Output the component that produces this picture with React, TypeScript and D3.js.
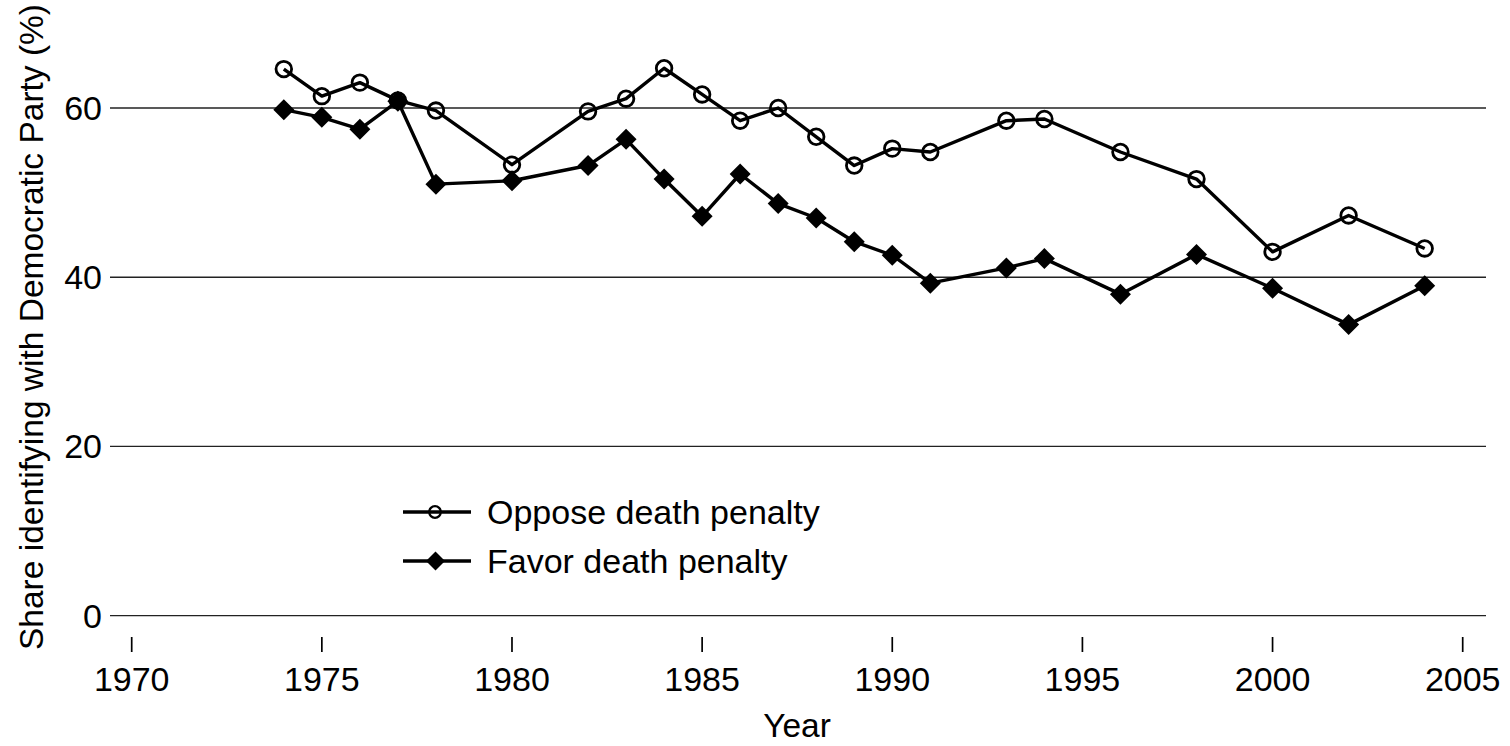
import React from "react";
import * as d3 from "d3";

const years = [1974, 1975, 1976, 1977, 1978, 1980, 1982, 1983, 1984, 1985, 1986, 1987, 1988, 1989, 1990, 1991, 1993, 1994, 1996, 1998, 2000, 2002, 2004];
const oppose = [64.6, 61.4, 63.0, 60.9, 59.7, 53.3, 59.6, 61.1, 64.7, 61.6, 58.5, 60.0, 56.6, 53.2, 55.2, 54.8, 58.5, 58.7, 54.8, 51.6, 43.0, 47.3, 43.4];
const favor = [59.8, 58.9, 57.5, 60.8, 51.0, 51.4, 53.2, 56.3, 51.6, 47.2, 52.2, 48.7, 47.0, 44.2, 42.6, 39.3, 41.1, 42.2, 38.0, 42.7, 38.7, 34.4, 39.0];
const xTicks = [1970, 1975, 1980, 1985, 1990, 1995, 2000, 2005];
const yTicks = [0, 20, 40, 60];
const legendLabels = ["Oppose death penalty", "Favor death penalty"];

const FONT = "'Liberation Sans', Arial, Helvetica, sans-serif";

export default function App() {
  const W = 1510, H = 746;
  const x = d3.scaleLinear().domain([1970, 2005]).range([131.7, 1462.7]);
  const y = d3.scaleLinear().domain([0, 60]).range([615.7, 108]);
  const line = d3.line<number>().x((_, i) => x(years[i])).y((d) => y(d));
  const diamond = (cx: number, cy: number, r: number) =>
    `M${cx},${cy - r}L${cx + r},${cy}L${cx},${cy + r}L${cx - r},${cy}Z`;

  return (
    <svg width={W} height={H} style={{ position: "absolute", left: 0, top: 0, background: "#fff" }} fontFamily={FONT}>
      {yTicks.map((t) => (
        <g key={t}>
          <line x1={110} x2={1486} y1={y(t)} y2={y(t)} stroke="#222" strokeWidth={1.3} />
          <text x={102} y={y(t) + 12} textAnchor="end" fontSize={34} fill="#000">{t}</text>
        </g>
      ))}
      {xTicks.map((t) => (
        <g key={t}>
          <line x1={x(t)} x2={x(t)} y1={637} y2={652} stroke="#000" strokeWidth={1.7} />
          <text x={x(t)} y={691} textAnchor="middle" fontSize={34} fill="#000">{t}</text>
        </g>
      ))}
      <text x={797} y={737} textAnchor="middle" fontSize={33.5}>Year</text>
      <text transform={`translate(43,327) rotate(-90)`} textAnchor="middle" fontSize={33.5}>
        Share identifying with Democratic Party (%)
      </text>

      <path d={line(oppose) || ""} fill="none" stroke="#000" strokeWidth={3.4} strokeLinejoin="round" />
      {oppose.map((v, i) => (
        <circle key={"o" + i} cx={x(years[i])} cy={y(v)} r={7.8} fill="none" stroke="#000" strokeWidth={2.8} />
      ))}
      <path d={line(favor) || ""} fill="none" stroke="#000" strokeWidth={3.4} strokeLinejoin="round" />
      {favor.map((v, i) => (
        <path key={"f" + i} d={diamond(x(years[i]), y(v), 10.5)} fill="#000" />
      ))}

      <g>
        <line x1={403} x2={471} y1={512} y2={512} stroke="#000" strokeWidth={3.4} />
        <circle cx={435} cy={512} r={5.8} fill="none" stroke="#000" strokeWidth={2.2} />
        <text x={487} y={524} fontSize={34}>{legendLabels[0]}</text>
        <line x1={403} x2={471} y1={561} y2={561} stroke="#000" strokeWidth={3.4} />
        <path d={diamond(435.5, 561, 9.5)} fill="#000" />
        <text x={487} y={573} fontSize={34}>{legendLabels[1]}</text>
      </g>
    </svg>
  );
}
